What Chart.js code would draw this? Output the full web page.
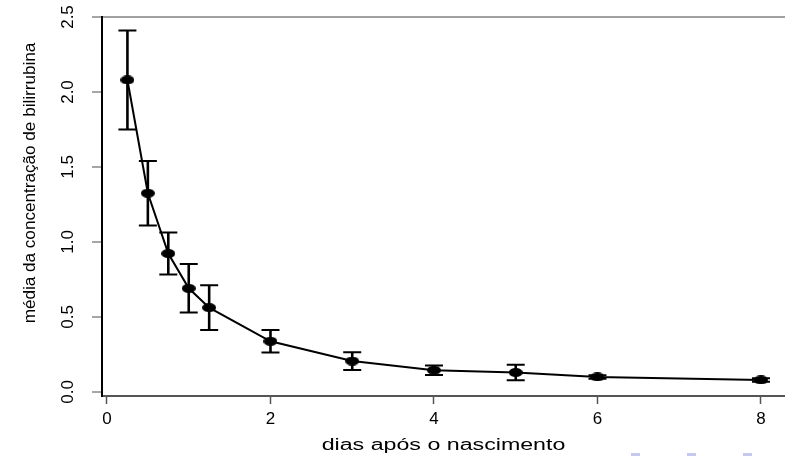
<!DOCTYPE html>
<html>
<head>
<meta charset="utf-8">
<script src="https://cdn.jsdelivr.net/npm/chart.js@4.4.1/dist/chart.umd.min.js"></script>
<style>
  html, body { margin: 0; padding: 0; background: #fff; }
  #wrap { width: 785px; height: 456px; }
</style>
</head>
<body>
<div id="wrap"><canvas id="chart" width="785" height="456"></canvas></div>
<script>
const dias = [0.25, 0.5, 0.75, 1, 1.25, 2, 3, 4, 5, 6, 8];
const media = [2.08, 1.325, 0.923, 0.691, 0.562, 0.338, 0.206, 0.145, 0.13, 0.1, 0.08];
const erro = [0.33, 0.215, 0.14, 0.162, 0.149, 0.075, 0.059, 0.032, 0.052, 0.012, 0.012];
const xTicks = [0, 2, 4, 6, 8];
const yTicks = [0, 0.5, 1, 1.5, 2, 2.5];
const xTitle = 'dias após o nascimento';
const yTitle = 'média da concentração de bilirrubina';

const FONT = '"Liberation Sans", Arial, Helvetica, sans-serif';

// filled ellipse used as the point marker
function ellipseMarker(w, h) {
  const c = document.createElement('canvas');
  c.width = w; c.height = h;
  const g = c.getContext('2d');
  g.fillStyle = '#000';
  g.beginPath();
  g.ellipse(w / 2, h / 2, w / 2, h / 2, 0, 0, Math.PI * 2);
  g.fill();
  return c;
}

// vertical bars with caps, mean +/- erro
const errorBars = {
  id: 'errorBars',
  beforeDatasetsDraw(chart) {
    const { ctx, scales: { x, y } } = chart;
    ctx.save();
    ctx.strokeStyle = '#000';
    dias.forEach((d, i) => {
      const px = x.getPixelForValue(d);
      const top = y.getPixelForValue(media[i] + erro[i]);
      const bot = y.getPixelForValue(media[i] - erro[i]);
      ctx.lineWidth = 2.6;
      ctx.beginPath();
      ctx.moveTo(px, top); ctx.lineTo(px, bot);
      ctx.stroke();
      ctx.lineWidth = 2;
      ctx.beginPath();
      ctx.moveTo(px - 9, top); ctx.lineTo(px + 9, top);
      ctx.moveTo(px - 9, bot); ctx.lineTo(px + 9, bot);
      ctx.stroke();
    });
    ctx.restore();
  }
};

// axis titles and the little navigation marks at the bottom
const axisTitles = {
  id: 'axisTitles',
  afterDraw(chart) {
    const { ctx, chartArea } = chart;
    ctx.save();
    ctx.fillStyle = '#000';
    ctx.font = '16px ' + FONT;
    ctx.textAlign = 'center';
    ctx.textBaseline = 'alphabetic';
    ctx.save();
    ctx.translate((chartArea.left + chartArea.right) / 2, 450);
    ctx.scale(1.45, 1);
    ctx.fillText(xTitle, 0, 0);
    ctx.restore();

    ctx.save();
    ctx.translate(31, 183);
    ctx.rotate(-Math.PI / 2);
    ctx.textBaseline = 'middle';
    ctx.scale(1.07, 1);
    ctx.fillText(yTitle, 0, 0);
    ctx.restore();

    ctx.fillStyle = '#c8c8ee';
    [631, 687, 743].forEach(x0 => ctx.fillRect(x0, 453, 9, 3));
    ctx.restore();
  }
};

new Chart(document.getElementById('chart'), {
  type: 'line',
  data: {
    datasets: [{
      data: dias.map((d, i) => ({ x: d, y: media[i] })),
      borderColor: '#000',
      borderWidth: 2,
      pointStyle: ellipseMarker(14, 9),
      pointRadius: 7,
      pointHoverRadius: 7,
      tension: 0,
      fill: false
    }]
  },
  options: {
    responsive: false,
    animation: false,
    events: [],
    layout: { autoPadding: false, padding: { top: 17, right: 0, bottom: 0, left: 0 } },
    plugins: { legend: { display: false }, tooltip: { enabled: false } },
    scales: {
      x: {
        type: 'linear',
        min: -0.061,
        max: 8.294,
        afterBuildTicks: axis => { axis.ticks = xTicks.map(v => ({ value: v })); },
        afterFit: axis => {
          axis.height = 60;
          axis.paddingLeft = 0;
          axis.paddingRight = 0;
        },
        grid: { drawOnChartArea: false, drawTicks: true, tickLength: 8, tickColor: '#555', tickWidth: 1.5 },
        border: { display: true, color: '#555', width: 2 },
        ticks: {
          color: '#000',
          font: { family: FONT, size: 17 },
          padding: 5,
          maxRotation: 0,
          callback: v => String(v)
        }
      },
      y: {
        min: -0.027,
        max: 2.5,
        afterBuildTicks: axis => { axis.ticks = yTicks.map(v => ({ value: v })); },
        afterFit: axis => {
          axis.width = 102;
          axis.paddingTop = 0;
          axis.paddingBottom = 0;
        },
        grid: {
          drawOnChartArea: true,
          drawTicks: true,
          tickLength: 10,
          color: c => (c.tick && c.tick.value === 2.5 ? '#a0a0a0' : 'rgba(0,0,0,0)'),
          lineWidth: 2,
          tickColor: '#888',
          tickWidth: 1.5
        },
        border: { display: true, color: '#000', width: 2 },
        ticks: {
          color: '#000',
          font: { family: FONT, size: 17 },
          minRotation: 90,
          maxRotation: 90,
          crossAlign: 'center',
          padding: 12,
          callback: v => v.toFixed(1)
        }
      }
    }
  },
  plugins: [errorBars, axisTitles]
});
</script>
</body>
</html>
